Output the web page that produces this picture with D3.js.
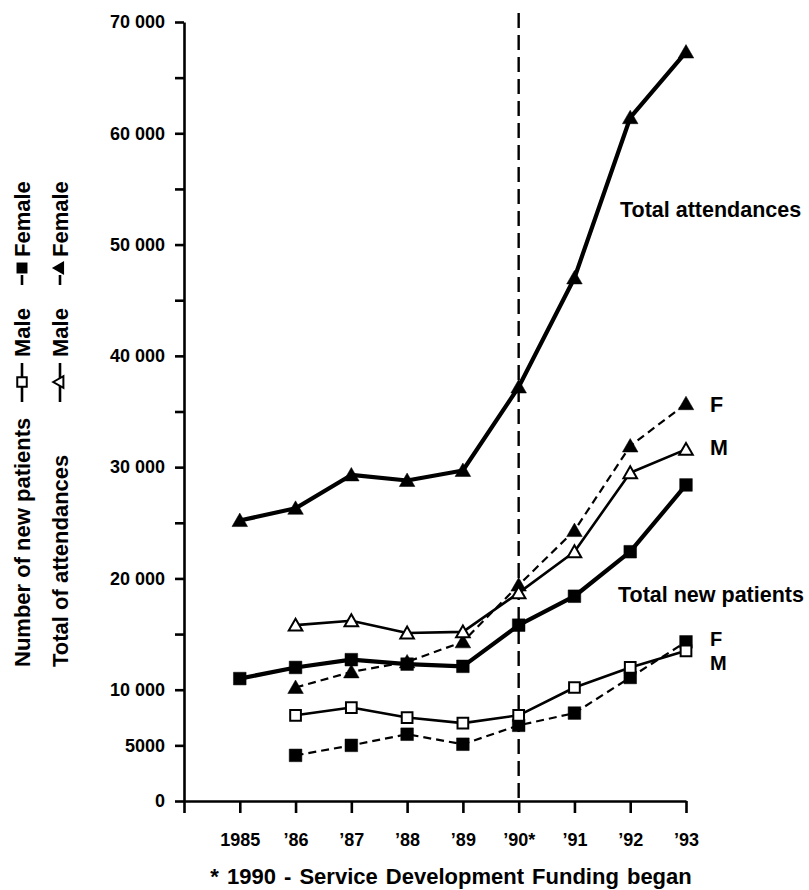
<!DOCTYPE html>
<html>
<head>
<meta charset="utf-8">
<script src="https://cdn.jsdelivr.net/npm/d3@7"></script>
<style>
  body { margin: 0; background: #fff; }
  svg { font-family: "Liberation Sans", Arial, Helvetica, sans-serif; }
</style>
</head>
<body>
<div id="chart"></div>
<script>
// values
var years = [1985, 1986, 1987, 1988, 1989, 1990, 1991, 1992, 1993];
var yearsFrom86 = years.slice(1);

var attendTotal  = [25200, 26300, 29300, 28800, 29700, 37200, 47000, 61400, 67300];
var attendFemale = [10200, 11600, 12500, 14300, 19400, 24300, 31900, 35700];
var attendMale   = [15800, 16200, 15100, 15200, 18700, 22400, 29500, 31600];

var newTotal  = [11000, 12000, 12700, 12300, 12100, 15800, 18400, 22400, 28400];
var newMale   = [7700, 8400, 7500, 7000, 7700, 10200, 12000, 13500];
var newFemale = [4100, 5000, 6000, 5100, 6800, 7900, 11100, 14300];

var yTicks = d3.range(0, 70001, 5000);
var yLabelled = [0, 5000, 10000, 20000, 30000, 40000, 50000, 60000, 70000];
var xTicks = d3.range(1984, 1994);
var fundingYear = 1990;

var width = 809, height = 890;

var svg = d3.select('#chart').append('svg')
  .attr('width', width)
  .attr('height', height);

var x = d3.scaleLinear().domain([1984, 1993]).range([184, 686]);
var y = d3.scaleLinear().domain([0, 70000]).range([801, 22]);

function fmtY(d) {
  if (yLabelled.indexOf(d) < 0) return '';
  return d >= 10000 ? d3.format(',')(d).replace(',', ' ') : String(d);
}

function fmtX(d) {
  if (d === 1984) return '';
  if (d === 1985) return '1985';
  return '\u2019' + String(d).slice(2) + (d === fundingYear ? '*' : '');
}

// y axis
var yAxis = svg.append('g')
  .attr('transform', 'translate(' + x(1984) + ',0)')
  .call(d3.axisLeft(y).tickValues(yTicks).tickSize(9).tickSizeOuter(0).tickPadding(10).tickFormat(fmtY));

// x axis
var xAxis = svg.append('g')
  .attr('transform', 'translate(0,' + y(0) + ')')
  .call(d3.axisBottom(x).tickValues(xTicks).tickSize(12).tickSizeOuter(0).tickPadding(20).tickFormat(fmtX));

[yAxis, xAxis].forEach(function(g) {
  g.select('.domain').attr('stroke', '#000').attr('stroke-width', 2.6);
  g.selectAll('.tick line').attr('stroke', '#000').attr('stroke-width', 2.6);
  g.selectAll('.tick text')
    .attr('fill', '#000')
    .style('font-size', '18px')
    .style('font-weight', 'bold')
    .style('font-family', '"Liberation Sans", Arial, sans-serif');
});

// 1990 funding marker
svg.append('line')
  .attr('x1', x(fundingYear)).attr('x2', x(fundingYear))
  .attr('y1', y.range()[1] - 9).attr('y2', y(0))
  .attr('stroke', '#000')
  .attr('stroke-width', 2.4)
  .attr('stroke-dasharray', '15,7');

// series table built from the arrays above
var series = [
  { name: 'attendFemale', yrs: yearsFrom86, vals: attendFemale, w: 2.2, dash: '8,5', shape: 'tri', fill: '#000' },
  { name: 'attendMale',   yrs: yearsFrom86, vals: attendMale,   w: 2.6, dash: null,  shape: 'tri', fill: '#fff' },
  { name: 'attendTotal',  yrs: years,       vals: attendTotal,  w: 4.2, dash: null,  shape: 'tri', fill: '#000' },
  { name: 'newFemale',    yrs: yearsFrom86, vals: newFemale,    w: 2.2, dash: '8,5', shape: 'sq',  fill: '#000' },
  { name: 'newMale',      yrs: yearsFrom86, vals: newMale,      w: 2.6, dash: null,  shape: 'sq',  fill: '#fff' },
  { name: 'newTotal',     yrs: years,       vals: newTotal,     w: 4.2, dash: null,  shape: 'sq',  fill: '#000' }
];

var line = d3.line()
  .x(function(d) { return x(d[0]); })
  .y(function(d) { return y(d[1]); });

var triangle = d3.symbol().type(d3.symbolTriangle).size(105);
var square = d3.symbol().type(d3.symbolSquare).size(160);
var openSquare = d3.symbol().type(d3.symbolSquare).size(115);
var openTriangle = d3.symbol().type(d3.symbolTriangle).size(80);

function markerPath(s) {
  if (s.shape === 'tri') return s.fill === '#fff' ? openTriangle() : triangle();
  return s.fill === '#fff' ? openSquare() : square();
}

series.forEach(function(s) {
  var pts = d3.zip(s.yrs, s.vals);
  svg.append('path')
    .datum(pts)
    .attr('class', 'line ' + s.name)
    .attr('fill', 'none')
    .attr('stroke', '#000')
    .attr('stroke-width', s.w)
    .attr('stroke-linejoin', 'round')
    .attr('stroke-dasharray', s.dash)
    .attr('d', line);
});

series.forEach(function(s) {
  var pts = d3.zip(s.yrs, s.vals);
  svg.selectAll('.mk-' + s.name)
    .data(pts)
    .enter().append('path')
      .attr('class', 'mk-' + s.name)
      .attr('transform', function(d) {
        var dy = s.shape === 'tri' ? 1.5 : 0;
        return 'translate(' + x(d[0]) + ',' + (y(d[1]) + dy) + ')';
      })
      .attr('d', markerPath(s))
      .attr('fill', s.fill)
      .attr('stroke', '#000')
      .attr('stroke-width', s.fill === '#fff' ? 2 : 0.5);
});

// labels next to the lines
var lab = svg.append('g')
  .style('font-size', '21.5px')
  .style('font-weight', 'bold')
  .attr('fill', '#000');

var endX = x(1993);
lab.append('text').attr('x', endX - 66).attr('y', 217).text('Total attendances');
lab.append('text').attr('x', endX + 24).attr('y', y(attendFemale[7]) + 8).text('F');
lab.append('text').attr('x', endX + 24).attr('y', y(attendMale[7]) + 6).text('M');
lab.append('text').attr('x', endX - 68).attr('y', 602).text('Total new patients');
lab.append('text').attr('x', endX + 24).attr('y', y(newFemale[7]) + 4)
  .style('font-size', '20px').text('F');
lab.append('text').attr('x', endX + 24).attr('y', y(newMale[7]) + 19)
  .style('font-size', '20px').text('M');

// footnote
svg.append('text')
  .attr('x', 451)
  .attr('y', 884)
  .attr('text-anchor', 'middle')
  .style('font-size', '22px')
  .style('font-weight', 'bold')
  .style('word-spacing', '2px')
  .text('* 1990 - Service Development Funding began');

// rotated legend on the left
function legendColumn(cx, title, shape) {
  var g = svg.append('g')
    .attr('transform', 'translate(' + cx + ',667) rotate(-90)')
    .style('font-size', '22px')
    .style('font-weight', 'bold');
  g.append('text').attr('x', 0).attr('y', 0).text(title);

  var mid = -8;
  var openSym = shape === 'tri' ? d3.symbol().type(d3.symbolTriangle).size(60) : d3.symbol().type(d3.symbolSquare).size(90);
  var fillSym = shape === 'tri' ? d3.symbol().type(d3.symbolTriangle).size(85) : d3.symbol().type(d3.symbolSquare).size(120);

  // -o- Male
  g.append('line').attr('x1', 265).attr('x2', 304).attr('y1', mid).attr('y2', mid)
    .attr('stroke', '#000').attr('stroke-width', 2.6);
  g.append('path').attr('d', openSym())
    .attr('transform', 'translate(285,' + mid + ')')
    .attr('fill', '#fff').attr('stroke', '#000').attr('stroke-width', 2);
  g.append('text').attr('x', 310).attr('y', 0).text('Male');

  // -x Female
  g.append('line').attr('x1', 382).attr('x2', 392).attr('y1', mid).attr('y2', mid)
    .attr('stroke', '#000').attr('stroke-width', 2.6);
  g.append('path').attr('d', fillSym())
    .attr('transform', 'translate(399,' + mid + ')')
    .attr('fill', '#000');
  g.append('text').attr('x', 410).attr('y', 0).text('Female');
}

legendColumn(30, 'Number of new patients', 'sq');
legendColumn(68, 'Total of attendances', 'tri');
</script>
</body>
</html>
